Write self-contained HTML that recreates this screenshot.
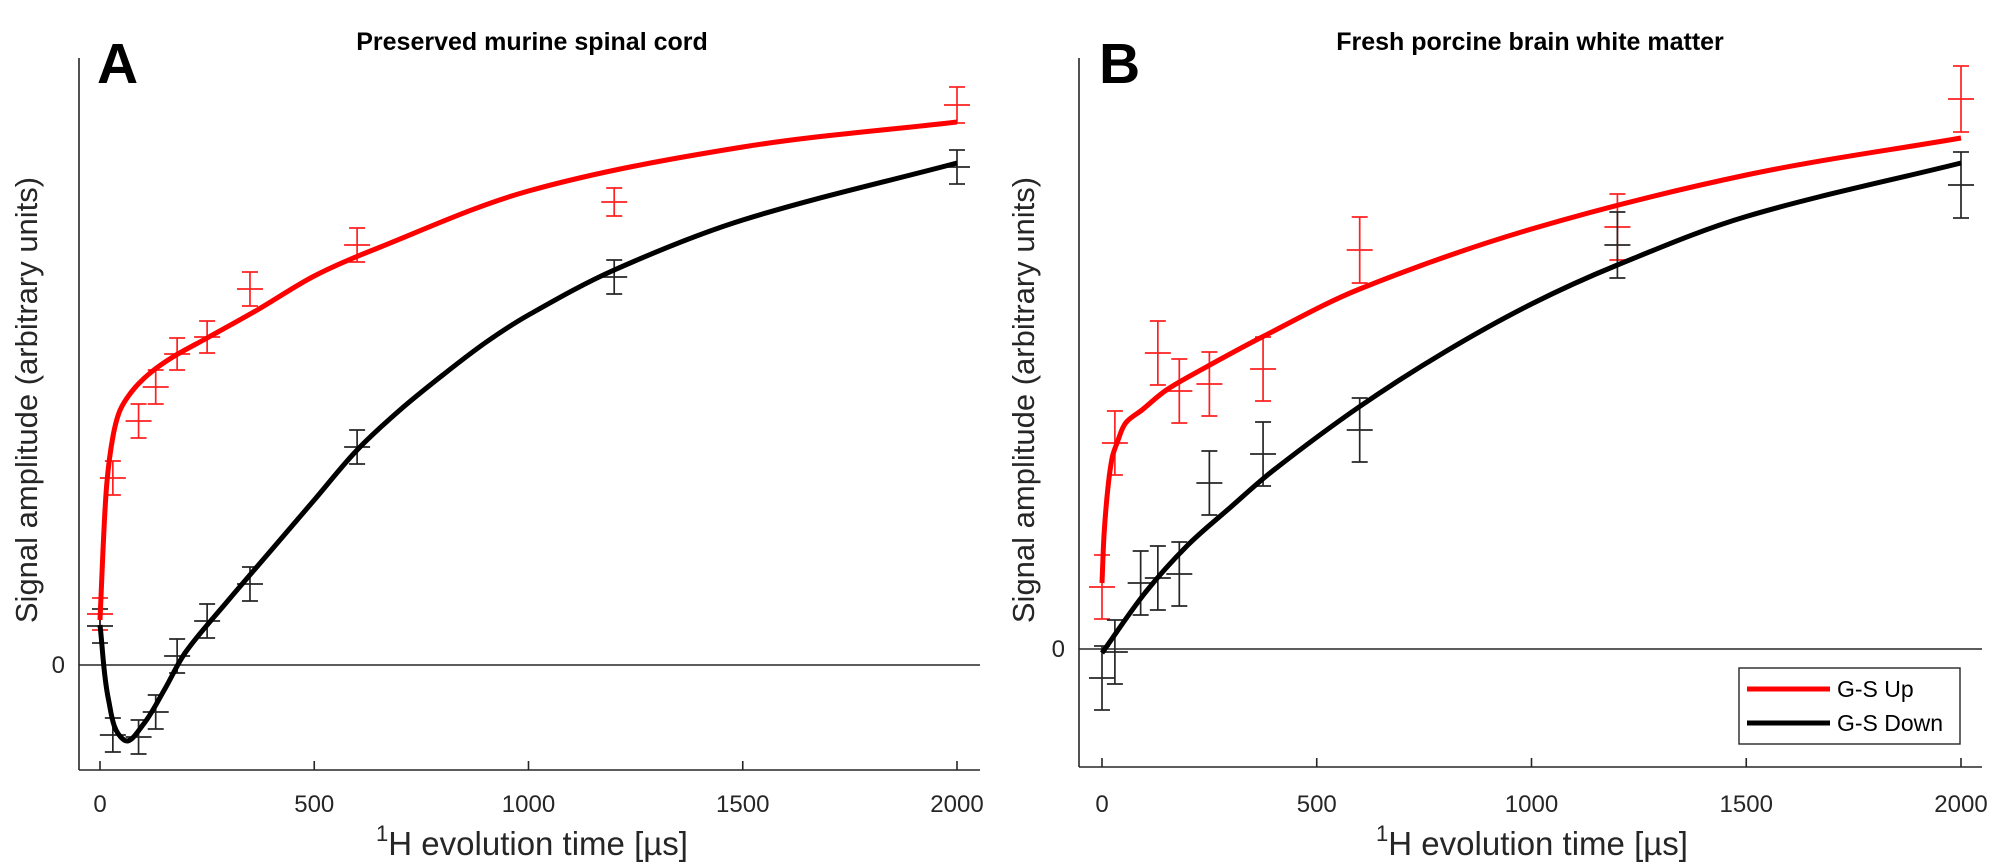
<!DOCTYPE html>
<html><head><meta charset="utf-8"><style>
html,body{margin:0;padding:0;background:#fff;}
svg{display:block;font-family:"Liberation Sans",Arial,sans-serif;}
</style></head><body>
<svg id="fig" width="2000" height="866" viewBox="0 0 2000 866" xmlns="http://www.w3.org/2000/svg"></svg>
<script>
// ---- Panel A data ----
const aPtsT = [0,30,90,130,180,250,350,600,1200,2000];
const aUpVals = [10.2,37.4,48.8,55.6,62.2,65.6,75.2,84,92.6,112];
const aUpErr = [3.2,3.4,3.4,3.4,3.2,3.2,3.4,3.4,2.8,3.6];
const aDownVals = [7.8,-14,-14.4,-9.4,1.8,8.8,16.2,43.6,77.6,99.6];
const aDownErr = [3.4,3.4,3.4,3.4,3.4,3.4,3.4,3.4,3.4,3.4];
const aUpFitT = [0,7,16,30,47,77,117,170,250,367,500,637,1000,1500,2000];
const aUpFit = [9,23,36.4,45.6,51,55,58.4,61.6,65.4,71,77.8,83,94.8,103.6,108.6];
const aDownFitT = [0,20,56,100,150,200,300,400,500,600,700,800,900,1000,1200,1500,2000];
const aDownFit = [8,-7,-15,-12,-5,2.6,13,23,33,43,51,58,64.5,70,79,89,100.4];
// ---- Panel B data ----
const bUpT = [0,30,130,180,250,375,600,1200,2000];
const bUpVals = [12.4,41.2,59.2,51.6,53,56,79.8,84.4,110];
const bUpErr = [6.4,6.4,6.4,6.4,6.4,6.4,6.6,6.6,6.6];
const bDownT = [0,30,90,130,180,250,375,600,1200,2000];
const bDownVals = [-5.8,-0.6,13.2,14.2,15,33.2,39,43.8,80.8,92.8];
const bDownErr = [6.4,6.4,6.4,6.4,6.4,6.4,6.4,6.4,6.6,6.6];
const bUpFitT = [0,5,14,24,35,55,93,150,230,375,600,1000,1500,2000];
const bUpFit = [13.2,23.2,32.4,38.4,41.2,45.2,47.8,51.8,55.8,62.5,72,84,94.8,102.2];
const bDownFitT = [0,100,200,300,400,600,800,1000,1200,1500,2000];
const bDownFit = [-0.8,11.2,20.8,28.4,35.8,48.5,59.5,69,76.8,86.5,97.2];
const xTicks = [0,500,1000,1500,2000];

const NS="http://www.w3.org/2000/svg";
const svg=document.getElementById('fig');
function mk(tag,attrs,parent){const e=document.createElementNS(NS,tag);for(const k in attrs)e.setAttribute(k,attrs[k]);(parent||svg).appendChild(e);return e;}
function dist(a,b){return Math.hypot(b[0]-a[0],b[1]-a[1])||1e-6;}
function smooth(pts){
  const n=pts.length;
  const tan=pts.map((p,i)=>{
    if(i===0){return [(pts[1][0]-p[0]),(pts[1][1]-p[1])].map(v=>v/dist(p,pts[1]));}
    if(i===n-1){return [(p[0]-pts[i-1][0]),(p[1]-pts[i-1][1])].map(v=>v/dist(pts[i-1],p));}
    const a=pts[i-1],b=pts[i+1];const d=dist(a,b);
    return [(b[0]-a[0])/d,(b[1]-a[1])/d];
  });
  let d=`M${pts[0][0].toFixed(2)},${pts[0][1].toFixed(2)}`;
  for(let i=0;i<n-1;i++){
    const p1=pts[i],p2=pts[i+1],L=dist(p1,p2)/3;
    const c1=[p1[0]+tan[i][0]*L,p1[1]+tan[i][1]*L];
    const c2=[p2[0]-tan[i+1][0]*L,p2[1]-tan[i+1][1]*L];
    d+=` C${c1[0].toFixed(2)},${c1[1].toFixed(2)} ${c2[0].toFixed(2)},${c2[1].toFixed(2)} ${p2[0].toFixed(2)},${p2[1].toFixed(2)}`;
  }
  return d;
}

function panel(cfg){
  const g=mk('g',{});
  
  
  const X=t=>cfg.x0+t*cfg.xs;
  const Y=v=>cfg.zero-v*5;
  const ax=mk('line',{x1:cfg.left,y1:cfg.top,x2:cfg.left,y2:cfg.bottom,stroke:'#262626','stroke-width':1.6},g);
  
  
  const bx=mk('line',{x1:cfg.left,y1:cfg.bottom,x2:cfg.right,y2:cfg.bottom,stroke:'#262626','stroke-width':1.6},g);
  
  
  const zl=mk('line',{x1:cfg.left,y1:Y(0),x2:cfg.right,y2:Y(0),stroke:'#262626','stroke-width':1.6},g);
  
  
  xTicks.forEach(t=>{
    const tk=mk('line',{x1:X(t),y1:cfg.bottom,x2:X(t),y2:cfg.bottom-9,stroke:'#262626','stroke-width':1.6},g);
    
    
    const tl=mk('text',{x:X(t),y:812,'font-size':24,'text-anchor':'middle',fill:'#262626'},g);
    tl.textContent=t;
    
    
  });
  const y0=mk('text',{x:cfg.left-14,y:Y(0)+8,'font-size':24,'text-anchor':'end',fill:'#262626'},g);
  y0.textContent='0';
  
  
  const xl=mk('text',{x:cfg.xlabelX,y:855,'font-size':33,'text-anchor':'middle',fill:'#262626'},g);
  xl.innerHTML='<tspan font-size="22" dy="-14">1</tspan><tspan dy="14">H evolution time [µs]</tspan>';
  
  
  const yl=mk('text',{x:0,y:0,'font-size':31,'text-anchor':'middle',fill:'#262626',transform:`translate(${cfg.ylabelX},${cfg.ylabelY}) rotate(-90)`},g);
  yl.textContent='Signal amplitude (arbitrary units)';
  
  
  const ti=mk('text',{x:cfg.titleX,y:50,'font-size':25,'font-weight':'bold','text-anchor':'middle',fill:'#000'},g);
  ti.textContent=cfg.title;
  
  
  const lt=mk('text',{x:cfg.letterX,y:83,'font-size':57,'font-weight':'bold',fill:'#000'},g);
  lt.textContent=cfg.letter;
  
  
  function errs(ts,vals,es,color,nm){
    ts.forEach((t,i)=>{
      const x=X(t),y=Y(vals[i]),e=es[i]*5;
      const eg=mk('g',{stroke:color,'stroke-width':1.7,fill:'none'},g);
      
      
      mk('line',{x1:x,y1:y-e,x2:x,y2:y+e},eg);
      mk('line',{x1:x-8,y1:y-e,x2:x+8,y2:y-e},eg);
      mk('line',{x1:x-8,y1:y+e,x2:x+8,y2:y+e},eg);
      mk('line',{x1:x-13,y1:y,x2:x+13,y2:y},eg);
    });
  }
  errs(cfg.upT,cfg.upV,cfg.upE,'#ff2020','up-data-point');
  errs(cfg.downT,cfg.downV,cfg.downE,'#262626','down-data-point');
  const up=mk('path',{d:smooth(cfg.upFitT.map((t,i)=>[X(t),Y(cfg.upFit[i])])),stroke:'#ff0000','stroke-width':5,fill:'none','stroke-linejoin':'round'},g);
  
  
  const dn=mk('path',{d:smooth(cfg.downFitT.map((t,i)=>[X(t),Y(cfg.downFit[i])])),stroke:'#000','stroke-width':5,fill:'none','stroke-linejoin':'round'},g);
  
  
}

panel({name:'panel-a',x0:100,xs:0.4285,zero:665,left:79,right:980,top:58,bottom:770,
  xlabelX:532,ylabelX:37,ylabelY:400,titleX:532,letter:'A',letterX:97,title:'Preserved murine spinal cord',
  upT:aPtsT,upV:aUpVals,upE:aUpErr,downT:aPtsT,downV:aDownVals,downE:aDownErr,
  upFitT:aUpFitT,upFit:aUpFit,downFitT:aDownFitT,downFit:aDownFit});
panel({name:'panel-b',x0:1102,xs:0.4295,zero:649,left:1079,right:1982,top:58,bottom:767,
  xlabelX:1532,ylabelX:1034,ylabelY:400,titleX:1530,letter:'B',letterX:1099,title:'Fresh porcine brain white matter',
  upT:bUpT,upV:bUpVals,upE:bUpErr,downT:bDownT,downV:bDownVals,downE:bDownErr,
  upFitT:bUpFitT,upFit:bUpFit,downFitT:bDownFitT,downFit:bDownFit});

const lg=mk('g',{});


mk('rect',{x:1739,y:668,width:221,height:76,fill:'#fff',stroke:'#262626','stroke-width':1.4},lg);
const l1=mk('line',{x1:1747,y1:689,x2:1830,y2:689,stroke:'#ff0000','stroke-width':5},lg);


const t1=mk('text',{x:1837,y:697,'font-size':23,fill:'#000'},lg);
t1.textContent='G-S Up';


const l2=mk('line',{x1:1747,y1:723,x2:1830,y2:723,stroke:'#000','stroke-width':5},lg);


const t2=mk('text',{x:1837,y:731,'font-size':23,fill:'#000'},lg);
t2.textContent='G-S Down';


</script>
</body></html>
